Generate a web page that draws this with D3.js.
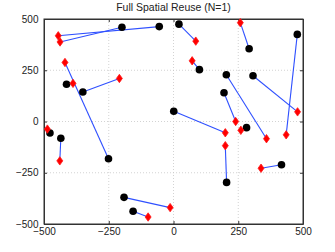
<!DOCTYPE html>
<html>
<head>
<meta charset="utf-8">
<script src="https://cdn.jsdelivr.net/npm/d3@7"></script>
<style>
  body { margin: 0; background: #fff; }
  text { font-family: "Liberation Sans", Arial, sans-serif; }
</style>
</head>
<body>
<svg id="chart" width="335" height="252"></svg>
<script>
// transmitters (black circles) and receivers (red diamonds), paired by index
var txX = [-199, -55, 21, 292, 478, 100, -251, -413, -350, 204, 307, 195, 1, -477, -435, 282, 205, 417, -191, -156]
var txY = [460, 463, 475, 355, 425, 253, -182, 182, 144, 228, 223, 140, 50, -56, -82, -30, -297, -211, -370, -438]
var rxX = [-438, -445, 86, 258, 435, 72, -419, -388, -209, 359, 479, 240, 200, -487, -439, 260, 200, 338, -13, -98]
var rxY = [388, 418, 392, 482, -65, 296, 288, 186, 210, -84, 47, 0, -55, -37, -192, -43, -118, -228, -420, -466]
var ticks = [-500, -250, 0, 250, 500]
var title = "Full Spatial Reuse (N=1)"

var svg = d3.select("#chart")
var pLeft = 44, pRight = 303, pTop = 19, pBottom = 224

var x = d3.scaleLinear().domain([-500, 500]).range([pLeft, pRight])
var y = d3.scaleLinear().domain([-500, 500]).range([pBottom, pTop])

// grid
var grid = svg.append("g")
grid.selectAll(".gx").data(ticks.slice(1, -1)).enter().append("line")
  .attr("x1", function (d) { return x(d) }).attr("x2", function (d) { return x(d) })
  .attr("y1", pTop).attr("y2", pBottom)
  .attr("stroke", "#c8c8c8").attr("stroke-width", 0.8).attr("stroke-dasharray", "1,2")
grid.selectAll(".gy").data(ticks.slice(1, -1)).enter().append("line")
  .attr("y1", function (d) { return y(d) }).attr("y2", function (d) { return y(d) })
  .attr("x1", pLeft).attr("x2", pRight)
  .attr("stroke", "#c8c8c8").attr("stroke-width", 0.8).attr("stroke-dasharray", "1,2")

// axes (ticks inside)
svg.append("g").attr("transform", "translate(0," + pBottom + ")")
  .call(d3.axisBottom(x).tickValues(ticks).tickSizeInner(-3).tickSizeOuter(0).tickPadding(3.5))
svg.append("g").attr("transform", "translate(0," + pTop + ")")
  .call(d3.axisTop(x).tickValues(ticks).tickSizeInner(-3).tickSizeOuter(0).tickFormat(""))
svg.append("g").attr("transform", "translate(" + pLeft + ",0)")
  .call(d3.axisLeft(y).tickValues(ticks).tickSizeInner(-3).tickSizeOuter(0).tickPadding(5.5))
svg.append("g").attr("transform", "translate(" + pRight + ",0)")
  .call(d3.axisRight(y).tickValues(ticks).tickSizeInner(-3).tickSizeOuter(0).tickFormat(""))
svg.selectAll(".domain").attr("stroke", "#333")
svg.selectAll(".tick line").attr("stroke", "#333")
svg.selectAll(".tick text").attr("font-size", 10).attr("fill", "#222")
  .attr("font-family", "Liberation Sans, Arial, sans-serif")

svg.append("rect").attr("x", pLeft).attr("y", pTop)
  .attr("width", pRight - pLeft).attr("height", pBottom - pTop)
  .attr("fill", "none").attr("stroke", "#333")

// links
var idx = d3.range(txX.length)
svg.append("g").selectAll("line").data(idx).enter().append("line")
  .attr("x1", function (i) { return x(txX[i]) }).attr("y1", function (i) { return y(txY[i]) })
  .attr("x2", function (i) { return x(rxX[i]) }).attr("y2", function (i) { return y(rxY[i]) })
  .attr("stroke", "#2f50ff").attr("stroke-width", 1.1)

// transmitters
svg.append("g").selectAll("circle").data(idx).enter().append("circle")
  .attr("cx", function (i) { return x(txX[i]) })
  .attr("cy", function (i) { return y(txY[i]) })
  .attr("r", 3.8).attr("fill", "#000")

// receivers
svg.append("g").selectAll("path").data(idx).enter().append("path")
  .attr("d", function (i) {
    var cx = x(rxX[i]), cy = y(rxY[i])
    return "M" + cx + "," + (cy - 4.2) + "L" + (cx + 3) + "," + cy +
      "L" + cx + "," + (cy + 4.2) + "L" + (cx - 3) + "," + cy + "Z"
  })
  .attr("fill", "#ff0000").attr("stroke", "#ff1a1a").attr("stroke-width", 0.8)

svg.append("text").attr("x", (pLeft + pRight) / 2).attr("y", 10.5)
  .attr("text-anchor", "middle").attr("font-size", 10.5).attr("fill", "#222")
  .text(title)
</script>
</body>
</html>
